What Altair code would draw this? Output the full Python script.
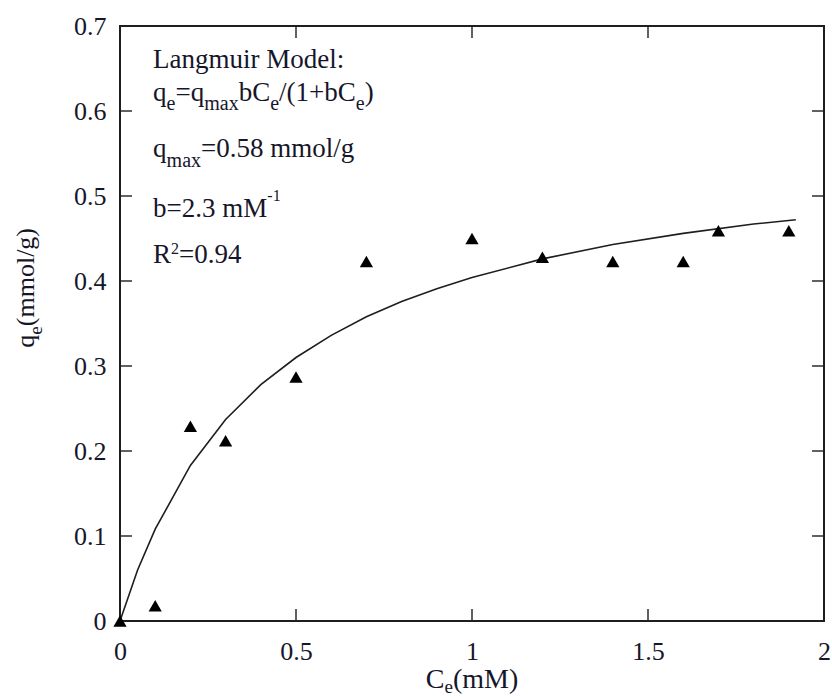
import altair as alt
import pandas as pd

# observed data (triangles)
ce_obs = [0.0, 0.1, 0.2, 0.3, 0.5, 0.7, 1.0, 1.2, 1.4, 1.6, 1.7, 1.9]
qe_obs = [0.0, 0.018, 0.229, 0.212, 0.287, 0.423, 0.450, 0.428, 0.423, 0.423, 0.459, 0.459]

# fitted Langmuir curve
ce_fit = [0.0, 0.05, 0.1, 0.2, 0.3, 0.4, 0.5, 0.6, 0.7, 0.8, 0.9, 1.0, 1.2, 1.4, 1.6, 1.8, 1.92]
qe_fit = [0.0, 0.060, 0.108, 0.183, 0.237, 0.278, 0.310, 0.336, 0.358, 0.376, 0.391, 0.404, 0.426, 0.443, 0.456, 0.467, 0.472]

x_tick_values = [0, 0.5, 1, 1.5, 2]
y_tick_values = [0, 0.1, 0.2, 0.3, 0.4, 0.5, 0.6, 0.7]
x_inner_ticks = [0.5, 1.0, 1.5]
y_inner_ticks = [0.1, 0.2, 0.3, 0.4, 0.5, 0.6]

# annotation text (segments: text, style)
ann_lines = [
    [("Langmuir Model:", "n")],
    [("q", "n"), ("e", "sub"), ("=q", "n"), ("max", "sub"), ("bC", "n"), ("e", "sub"),
     ("/(1+bC", "n"), ("e", "sub"), (")", "n")],
    [("q", "n"), ("max", "sub"), ("=0.58 mmol/g", "n")],
    [("b=2.3 mM", "n"), ("-1", "sup")],
    [("R", "n"), ("2", "sup"), ("=0.94", "n")],
]
ann_x = 0.094
ann_y = [0.651, 0.612, 0.546, 0.475, 0.421]
ann_shift = [0, 9, 10, -16, -9]

x_title = [("C", "n"), ("e", "sub"), ("(mM)", "n")]
y_title = [("q", "n"), ("e", "sub"), ("(mmol/g)", "n")]

FONT = "Liberation Serif"
TXT = "#16162a"
INK = "#1e1e1e"

# Times / Liberation Serif advance widths (em)
W = {'q': .5, 'e': .444, '=': .564, 'm': .778, 'a': .444, 'x': .5, 'b': .5, 'C': .667, '/': .278,
     '(': .333, ')': .333, '1': .5, '+': .564, '0': .5, '.': .25, '5': .5, '8': .5, ' ': .25,
     'o': .5, 'l': .278, 'g': .5, '2': .5, '3': .5, 'M': .889, '-': .333, 'R': .667, '9': .5,
     '4': .5, 'L': .611, 'n': .5, 'u': .5, 'i': .278, 'r': .333, 'd': .5, ':': .278}


def tw(s, size):
    return sum(W.get(c, 0.5) for c in s) * size


xs = alt.Scale(domain=[0, 2], nice=False, zero=False)
ys = alt.Scale(domain=[0, 0.7], nice=False, zero=False)
xaxis = alt.Axis(values=x_tick_values, format="~g", title=None, ticks=False, domain=False,
                 grid=False, labelFlush=False, labelPadding=17, labelOverlap=False)
yaxis = alt.Axis(values=y_tick_values, title=None, ticks=False, domain=False, grid=False,
                 labelPadding=14, labelFlush=False, labelOverlap=False,
                 labelExpr="datum.value == 0 ? '0' : format(datum.value, '.1f')")


def X():
    return alt.X("x:Q", scale=xs, axis=xaxis)


def Y():
    return alt.Y("y:Q", scale=ys, axis=yaxis)


obs = pd.DataFrame({"x": ce_obs, "y": qe_obs})
fit = pd.DataFrame({"x": ce_fit, "y": qe_fit})

curve = alt.Chart(fit).mark_line(color=INK, strokeWidth=1.6).encode(x=X(), y=Y())

points = alt.Chart(obs).mark_point(shape="triangle-up", filled=True, color="black", size=175,
                                   opacity=1).encode(x=X(), y=Y())

layers = [curve, points]


def ticks(vals, fixed, orient, off_key, off):
    if orient == "vertical":
        df = pd.DataFrame({"x": vals, "y": [fixed] * len(vals)})
    else:
        df = pd.DataFrame({"x": [fixed] * len(vals), "y": vals})
    kw = {off_key: off}
    return alt.Chart(df).mark_tick(orient=orient, size=12, thickness=2, color=INK, **kw).encode(
        x=X(), y=Y())


layers += [
    ticks(x_inner_ticks, 0.0, "vertical", "yOffset", -6),
    ticks(x_inner_ticks, 0.7, "vertical", "yOffset", 6),
    ticks(y_inner_ticks, 0.0, "horizontal", "xOffset", 6),
    ticks(y_inner_ticks, 2.0, "horizontal", "xOffset", -6),
]


def seg_layers(segs, x, y, main, sub, sup, shift, angle=None, center=False):
    out = []
    sizes = [main if st == "n" else (sub if st == "sub" else sup) for _, st in segs]
    total = sum(tw(t, s) for (t, _), s in zip(segs, sizes))
    pos = -total / 2 if center else 0
    for (t, st), s in zip(segs, sizes):
        dy = 0 if st == "n" else shift
        props = dict(align="left", baseline="alphabetic", font=FONT, fontSize=s, color=TXT,
                     dx=pos, dy=dy)
        if angle is not None:
            props["angle"] = angle
        df = pd.DataFrame({"x": [x], "y": [y], "t": [t]})
        out.append(alt.Chart(df).mark_text(**props).encode(x=X(), y=Y(), text="t:N"))
        pos += tw(t, s)
    return out


for segs, yv, sh in zip(ann_lines, ann_y, ann_shift):
    layers += seg_layers(segs, ann_x, yv, 27, 20, 16, sh)

layers += seg_layers(x_title, 1.0, -0.079, 28, 19, 16, 5, center=True)
layers += seg_layers(y_title, -0.244, 0.392, 26, 19, 15, 8, angle=270, center=True)

chart = alt.layer(*layers).properties(
    width=704, height=595,
    autosize=alt.AutoSizeParams(type="none"),
    padding={"left": 120, "top": 26, "right": 8, "bottom": 75},
).configure_view(stroke=INK, strokeWidth=2).configure_axis(
    labelFont=FONT, labelFontSize=26, labelColor=TXT
)

chart.save("out.html", embed_options={"renderer": "svg", "actions": False})
